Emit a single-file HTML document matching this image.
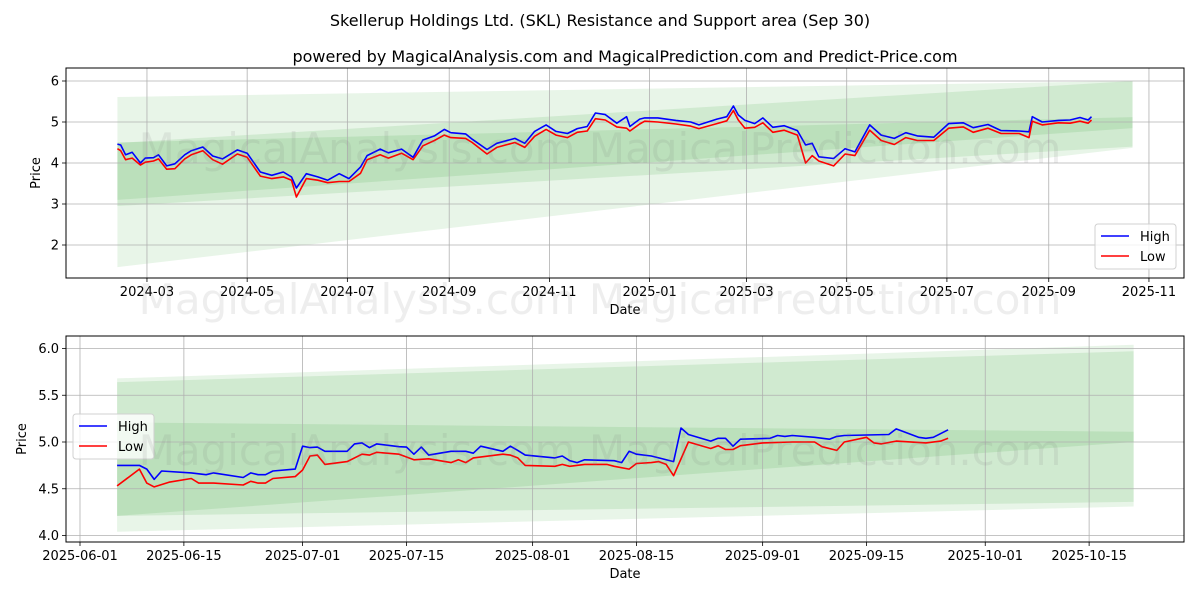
<!DOCTYPE html>
<html><head><meta charset="utf-8">
<style>
html,body{margin:0;padding:0;background:#fff;}
svg{display:block;font-family:"DejaVu Sans","Liberation Sans",sans-serif;}
</style></head>
<body>
<svg id="chart" width="1200" height="600" viewBox="0 0 1200 600" xmlns="http://www.w3.org/2000/svg">
<rect width="1200" height="600" fill="#fff"/>
<text x="600" y="26" text-anchor="middle" font-size="16" fill="#000">Skellerup Holdings Ltd. (SKL) Resistance and Support area (Sep 30)</text>
<text x="625" y="62" text-anchor="middle" font-size="16" fill="#000">powered by MagicalAnalysis.com and MagicalPrediction.com and Predict-Price.com</text>
<g id="top"></g>
<g id="bot"></g>
<g font-size="42" fill="rgba(120,120,120,0.13)" text-anchor="middle">
<text x="600" y="163">MagicalAnalysis.com    MagicalPrediction.com</text>
<text x="600" y="314">MagicalAnalysis.com    MagicalPrediction.com</text>
<text x="600" y="465">MagicalAnalysis.com    MagicalPrediction.com</text>
</g>
</svg>
<script>
// ---- Top chart data (days since 2024-02-12) ----
const topDays = [0,2,5,9,14,17,22,25,30,35,41,45,52,58,64,73,79,87,94,101,106,109,115,122,128,135,141,148,152,160,165,173,180,186,193,199,203,212,216,225,231,242,248,254,261,267,274,280,286,291,297,304,310,312,318,321,329,340,349,354,365,371,375,378,382,388,393,399,406,414,419,423,427,436,443,449,458,465,473,480,487,497,506,515,521,530,538,549,555,557,563,573,580,586,591,593];
const topHigh = [4.46,4.44,4.2,4.26,4.0,4.12,4.13,4.2,3.93,3.98,4.2,4.3,4.39,4.17,4.1,4.32,4.24,3.78,3.7,3.78,3.66,3.39,3.74,3.66,3.58,3.74,3.62,3.9,4.18,4.34,4.25,4.34,4.14,4.56,4.66,4.82,4.74,4.71,4.58,4.33,4.48,4.6,4.48,4.77,4.93,4.77,4.72,4.84,4.89,5.22,5.18,4.97,5.13,4.89,5.07,5.1,5.1,5.04,5.0,4.93,5.07,5.13,5.39,5.17,5.04,4.96,5.1,4.87,4.91,4.79,4.44,4.48,4.15,4.11,4.35,4.27,4.93,4.68,4.6,4.74,4.66,4.63,4.96,4.98,4.86,4.94,4.79,4.78,4.76,5.13,5.0,5.04,5.05,5.11,5.05,5.13];
const topLow = [4.35,4.3,4.08,4.12,3.95,4.02,4.05,4.1,3.85,3.86,4.1,4.2,4.3,4.08,3.97,4.22,4.14,3.68,3.62,3.66,3.58,3.17,3.62,3.58,3.52,3.55,3.55,3.75,4.08,4.2,4.12,4.24,4.08,4.42,4.55,4.68,4.62,4.6,4.5,4.22,4.38,4.5,4.38,4.65,4.82,4.68,4.62,4.75,4.78,5.08,5.05,4.88,4.85,4.78,4.95,5.02,5.0,4.95,4.9,4.84,4.96,5.03,5.28,5.05,4.85,4.87,4.98,4.75,4.8,4.68,4.0,4.18,4.05,3.93,4.22,4.18,4.8,4.55,4.45,4.62,4.55,4.55,4.85,4.88,4.75,4.85,4.72,4.72,4.62,5.02,4.93,4.98,4.97,5.02,4.97,5.05];
const topBandDays = [0,618];
const topBandOuterHi = [5.61,6.0];
const topBandOuterLo = [1.46,4.37];
const topBandMidHi = [4.49,6.0];
const topBandMidLo = [2.95,4.4];
const topBandInHi = [4.5,5.12];
const topBandInLo = [3.1,4.85];
const topYTicks = [2,3,4,5,6];
const topXTickLabels = ["2024-03","2024-05","2024-07","2024-09","2024-11","2025-01","2025-03","2025-05","2025-07","2025-09","2025-11"];
const topXTickDays = [18,79,140,202,263,324,383,444,505,567,628];

// ---- Bottom chart data (days since 2025-06-01) ----
const botHighDays = [5,8,9,10,11,15,17,18,22,23,24,25,26,29,30,31,32,33,36,37,38,39,40,43,44,45,46,47,50,52,53,54,57,58,59,60,64,65,66,67,68,72,73,74,75,77,78,80,81,82,85,86,87,88,89,93,94,95,96,99,101,102,103,109,110,113,114,115,117];
const botHigh = [4.75,4.75,4.71,4.6,4.69,4.67,4.65,4.67,4.62,4.67,4.65,4.65,4.69,4.71,4.955,4.94,4.945,4.9,4.9,4.98,4.99,4.94,4.98,4.95,4.945,4.87,4.945,4.86,4.9,4.9,4.88,4.955,4.9,4.955,4.91,4.86,4.83,4.85,4.8,4.78,4.81,4.8,4.78,4.9,4.87,4.85,4.83,4.79,5.15,5.08,5.01,5.04,5.04,4.955,5.03,5.04,5.07,5.06,5.07,5.05,5.03,5.06,5.07,5.08,5.14,5.05,5.04,5.05,5.13];
const botLowDays = [5,8,9,10,12,15,16,18,22,23,24,25,26,29,30,31,32,33,36,38,39,40,43,45,47,50,51,52,53,57,58,59,60,64,65,66,68,71,72,74,75,77,78,79,80,82,85,86,87,88,89,92,96,99,100,102,103,106,107,108,110,114,116,117];
const botLow = [4.53,4.71,4.56,4.52,4.57,4.61,4.56,4.56,4.54,4.58,4.56,4.56,4.61,4.63,4.7,4.85,4.86,4.76,4.79,4.87,4.86,4.89,4.87,4.81,4.82,4.78,4.81,4.78,4.83,4.87,4.86,4.83,4.75,4.74,4.76,4.74,4.76,4.76,4.74,4.71,4.77,4.78,4.79,4.76,4.64,5.0,4.93,4.96,4.92,4.92,4.96,4.99,5.0,5.0,4.95,4.91,5.0,5.05,4.99,4.98,5.01,4.99,5.01,5.04];
const botBandDays = [5,142];
const botBandOuterHi = [5.68,6.04];
const botBandOuterLo = [4.04,4.31];
const botBandMidHi = [5.64,5.97];
const botBandMidLo = [4.21,4.36];
const botBandInHi = [5.21,5.11];
const botBandInLo = [4.21,5.0];
const botYTicks = [4.0,4.5,5.0,5.5,6.0];
const botXTickLabels = ["2025-06-01","2025-06-15","2025-07-01","2025-07-15","2025-08-01","2025-08-15","2025-09-01","2025-09-15","2025-10-01","2025-10-15"];
const botXTickDays = [0,14,30,44,61,75,92,106,122,136];

const NS = "http://www.w3.org/2000/svg";
function mk(parent, tag, attrs){
  const e = document.createElementNS(NS, tag);
  for (const k in attrs) e.setAttribute(k, attrs[k]);
  parent.appendChild(e);
  return e;
}

function drawPanel(g, cfg){
  const L = cfg.left, R = cfg.right, T = cfg.top, B = cfg.bottom;
  const xs = d => cfg.x0 + d * cfg.xk;
  const ys = v => cfg.yRef + (cfg.vRef - v) * cfg.yk;
  // bands
  const bands = [[cfg.oHi,cfg.oLo,0.11],[cfg.mHi,cfg.mLo,0.12],[cfg.iHi,cfg.iLo,0.12]];
  bands.forEach((b, bi) => {
    const d0 = cfg.bandDays[0], d1 = cfg.bandDays[1];
    const pts = [[xs(d0),ys(b[0][0])],[xs(d1),ys(b[0][1])],[xs(d1),ys(b[1][1])],[xs(d0),ys(b[1][0])]];
    const p = mk(g, "polygon", {points: pts.map(q=>q.join(",")).join(" "), fill:"rgb(44,160,44)", "fill-opacity": b[2]});
    
    
  });
  // grid
  cfg.xTickDays.forEach((d, i) => {
    const x = xs(d);
    const l = mk(g, "line", {x1:x, x2:x, y1:T, y2:B, stroke:"#b0b0b0", "stroke-width":0.8});
    
    
    const t = mk(g, "line", {x1:x, x2:x, y1:B, y2:B+4, stroke:"#000", "stroke-width":0.8});
    
    
    const tx = mk(g, "text", {x:x, y:B+18, "text-anchor":"middle", "font-size":13, fill:"#000"});
    tx.textContent = cfg.xTickLabels[i];
    
    
  });
  cfg.yTicks.forEach(v => {
    const y = ys(v);
    const l = mk(g, "line", {x1:L, x2:R, y1:y, y2:y, stroke:"#b0b0b0", "stroke-width":0.8});
    
    
    const t = mk(g, "line", {x1:L-4, x2:L, y1:y, y2:y, stroke:"#000", "stroke-width":0.8});
    
    
    const tx = mk(g, "text", {x:L-7, y:y+4.5, "text-anchor":"end", "font-size":13, fill:"#000"});
    tx.textContent = cfg.yFmt(v);
    
    
  });
  // series
  const series = [[cfg.hiDays, cfg.hi, "#0000ff", "high-line"],[cfg.loDays, cfg.lo, "#ff0000", "low-line"]];
  series.forEach(s => {
    const pts = s[0].map((d,i) => xs(d).toFixed(1)+","+ys(s[1][i]).toFixed(1)).join(" ");
    const pl = mk(g, "polyline", {points:pts, fill:"none", stroke:s[2], "stroke-width":1.6, "stroke-linejoin":"round"});
    
    
  });
  // frame
  const fr = mk(g, "rect", {x:L, y:T, width:R-L, height:B-T, fill:"none", stroke:"#000", "stroke-width":1});
  
  
  const xl = mk(g, "text", {x:(L+R)/2, y:B+36, "text-anchor":"middle", "font-size":13, fill:"#000"});
  xl.textContent = "Date";
  
  
  const yl = mk(g, "text", {x:0, y:0, "text-anchor":"middle", "font-size":13, fill:"#000", transform:"translate("+cfg.yLabelX+","+((T+B)/2)+") rotate(-90)"});
  yl.textContent = "Price";
  
  
  // legend
  const lg = mk(g, "g", {});
  
  
  const lx = cfg.legX, ly = cfg.legY;
  mk(lg, "rect", {x:lx, y:ly, width:81, height:45, rx:3, fill:"rgba(255,255,255,0.8)", stroke:"#d0d0d0"});
  const e1 = mk(lg, "line", {x1:lx+6, x2:lx+34, y1:ly+12, y2:ly+12, stroke:"#0000ff", "stroke-width":1.6});
  
  
  const t1 = mk(lg, "text", {x:lx+45, y:ly+17, "font-size":13, fill:"#000"});
  t1.textContent = "High";
  const e2 = mk(lg, "line", {x1:lx+6, x2:lx+34, y1:ly+32, y2:ly+32, stroke:"#ff0000", "stroke-width":1.6});
  
  
  const t2 = mk(lg, "text", {x:lx+45, y:ly+37, "font-size":13, fill:"#000"});
  t2.textContent = "Low";
}

drawPanel(document.getElementById("top"), {
  left:66, right:1184, top:68, bottom:278,
  x0:117.4, xk:1.6426, yRef:122, vRef:5, yk:41,
  bandDays:topBandDays, oHi:topBandOuterHi, oLo:topBandOuterLo, mHi:topBandMidHi, mLo:topBandMidLo, iHi:topBandInHi, iLo:topBandInLo,
  xTickDays:topXTickDays, xTickLabels:topXTickLabels, yTicks:topYTicks, yFmt:v=>String(v),
  hiDays:topDays, hi:topHigh, loDays:topDays, lo:topLow,
  yLabelX:40, legX:1095, legY:224
});
drawPanel(document.getElementById("bot"), {
  left:66, right:1184, top:336, bottom:542,
  x0:80, xk:7.42, yRef:442, vRef:5, yk:93.5,
  bandDays:botBandDays, oHi:botBandOuterHi, oLo:botBandOuterLo, mHi:botBandMidHi, mLo:botBandMidLo, iHi:botBandInHi, iLo:botBandInLo,
  xTickDays:botXTickDays, xTickLabels:botXTickLabels, yTicks:botYTicks, yFmt:v=>v.toFixed(1),
  hiDays:botHighDays, hi:botHigh, loDays:botLowDays, lo:botLow,
  yLabelX:26, legX:73, legY:414
});
</script>
</body></html>
